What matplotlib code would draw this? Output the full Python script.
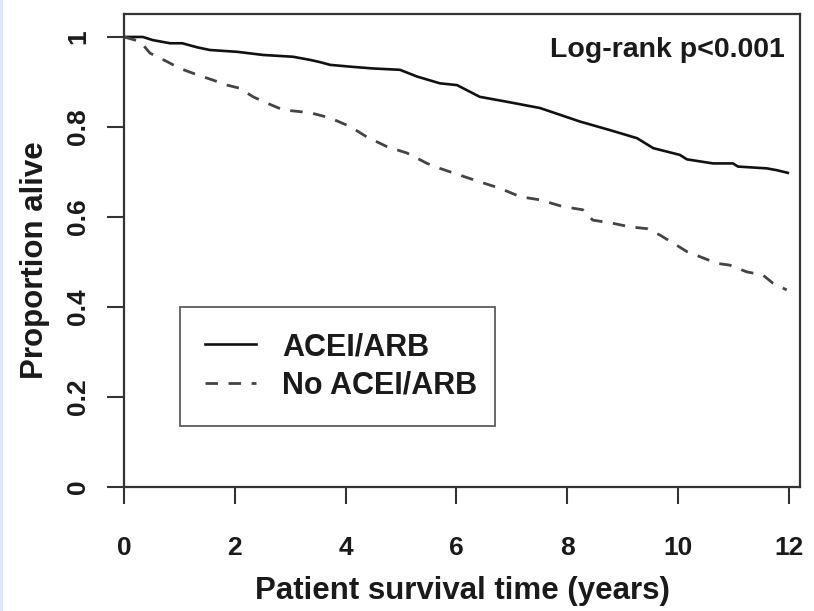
import matplotlib
matplotlib.use("Agg")
import matplotlib.pyplot as plt
from matplotlib.patches import Rectangle

plt.rcParams['font.family'] = ['Liberation Sans', 'DejaVu Sans']
plt.rcParams['font.weight'] = 'bold'
plt.rcParams['axes.labelweight'] = 'bold'

# Kaplan-Meier estimates (years, proportion alive)
acei_time = [0.00, 0.34, 0.52, 0.83, 1.05, 1.32, 1.55, 2.04, 2.51, 3.05, 3.36,
             3.54, 3.72, 4.08, 4.49, 4.98, 5.29, 5.70, 6.01, 6.42, 6.91, 7.51,
             7.87, 8.23, 8.77, 9.26, 9.55, 10.03, 10.16, 10.63, 10.99, 11.08,
             11.60, 11.78, 11.98]
acei_surv = [1.000, 1.000, 0.993, 0.986, 0.986, 0.977, 0.971, 0.967, 0.960,
             0.956, 0.949, 0.944, 0.938, 0.934, 0.930, 0.927, 0.912, 0.897,
             0.893, 0.867, 0.856, 0.842, 0.827, 0.812, 0.793, 0.775, 0.753,
             0.738, 0.728, 0.719, 0.719, 0.712, 0.708, 0.704, 0.698]

noacei_time = [0.00, 0.29, 0.47, 0.78, 1.01, 1.32, 1.61, 1.86, 2.09, 2.33, 2.58,
               2.87, 3.18, 3.41, 3.72, 4.08, 4.38, 4.75, 5.11, 5.47, 5.70, 6.06,
               6.42, 6.78, 7.15, 7.51, 7.92, 8.28, 8.46, 8.82, 9.13, 9.44, 9.67,
               9.91, 10.16, 10.39, 10.70, 10.93, 11.24, 11.53, 11.71, 11.96]
noacei_surv = [1.000, 0.990, 0.964, 0.945, 0.930, 0.916, 0.904, 0.893, 0.886,
               0.867, 0.853, 0.838, 0.834, 0.830, 0.820, 0.801, 0.778, 0.756,
               0.742, 0.719, 0.708, 0.693, 0.678, 0.664, 0.645, 0.638, 0.623,
               0.616, 0.593, 0.586, 0.578, 0.574, 0.560, 0.542, 0.523, 0.512,
               0.497, 0.493, 0.478, 0.471, 0.453, 0.438]

group_labels = ["ACEI/ARB", "No ACEI/ARB"]
x_ticks = [0, 2, 4, 6, 8, 10, 12]
y_ticks = [0, 0.2, 0.4, 0.6, 0.8, 1.0]
y_tick_labels = ["0", "0.2", "0.4", "0.6", "0.8", "1"]

W, H = 814, 611
fig = plt.figure(figsize=(W / 100, H / 100), dpi=100)
fig.patch.set_facecolor('white')
fig.patches.append(Rectangle((0, 0), 3 / W, 1, transform=fig.transFigure,
                             facecolor='#dde6fa', edgecolor='none'))

ax = fig.add_axes([124 / W, 1 - 487 / H, 676 / W, 473 / H])
ink = '#1a1a1a'

ax.plot(acei_time, acei_surv, color='#111111', lw=1.9, label=group_labels[0])
ax.plot(noacei_time, noacei_surv, color='#444444', lw=2.0,
        linestyle=(0, (4.5, 3.8)), label=group_labels[1])

ax.set_xlim(0, 12.2)
ax.set_ylim(0, 1.051)

for s in ax.spines.values():
    s.set_color('#333333')
    s.set_linewidth(1.6)

ax.set_xticks(x_ticks)
ax.set_xticklabels([str(v) for v in x_ticks])
ax.set_yticks(y_ticks)
ax.set_yticklabels(y_tick_labels, rotation=90, va='center')
ax.tick_params(axis='both', direction='out', length=12.5, width=1.5,
               color='#333333', labelsize=19, labelcolor=ink)
ax.tick_params(axis='x', pad=23)
ax.tick_params(axis='y', pad=12)

ax.set_xlabel("Patient survival time (years)", fontsize=22.5, color=ink,
              labelpad=11)
ax.set_ylabel("Proportion alive", fontsize=22.5, color=ink)
ax.yaxis.set_label_coords(-74 / 676, 0.48)

ax.text(0.977, 0.909, "Log-rank p<0.001", transform=ax.transAxes,
        ha='right', va='baseline', fontsize=20.5, color=ink)

leg = ax.legend(loc='upper left',
                bbox_to_anchor=(56 / 676, 0, 315 / 676, (487 - 307) / 473),
                mode='expand', frameon=True, fancybox=False, fontsize=22,
                handlelength=1.67, handletextpad=0.85, borderpad=0.82,
                labelspacing=0.29, borderaxespad=0)
leg.get_frame().set_edgecolor('#333333')
leg.get_frame().set_linewidth(1.3)
for t in leg.get_texts():
    t.set_color(ink)

fig.savefig("out.png", dpi=100, facecolor='white')
